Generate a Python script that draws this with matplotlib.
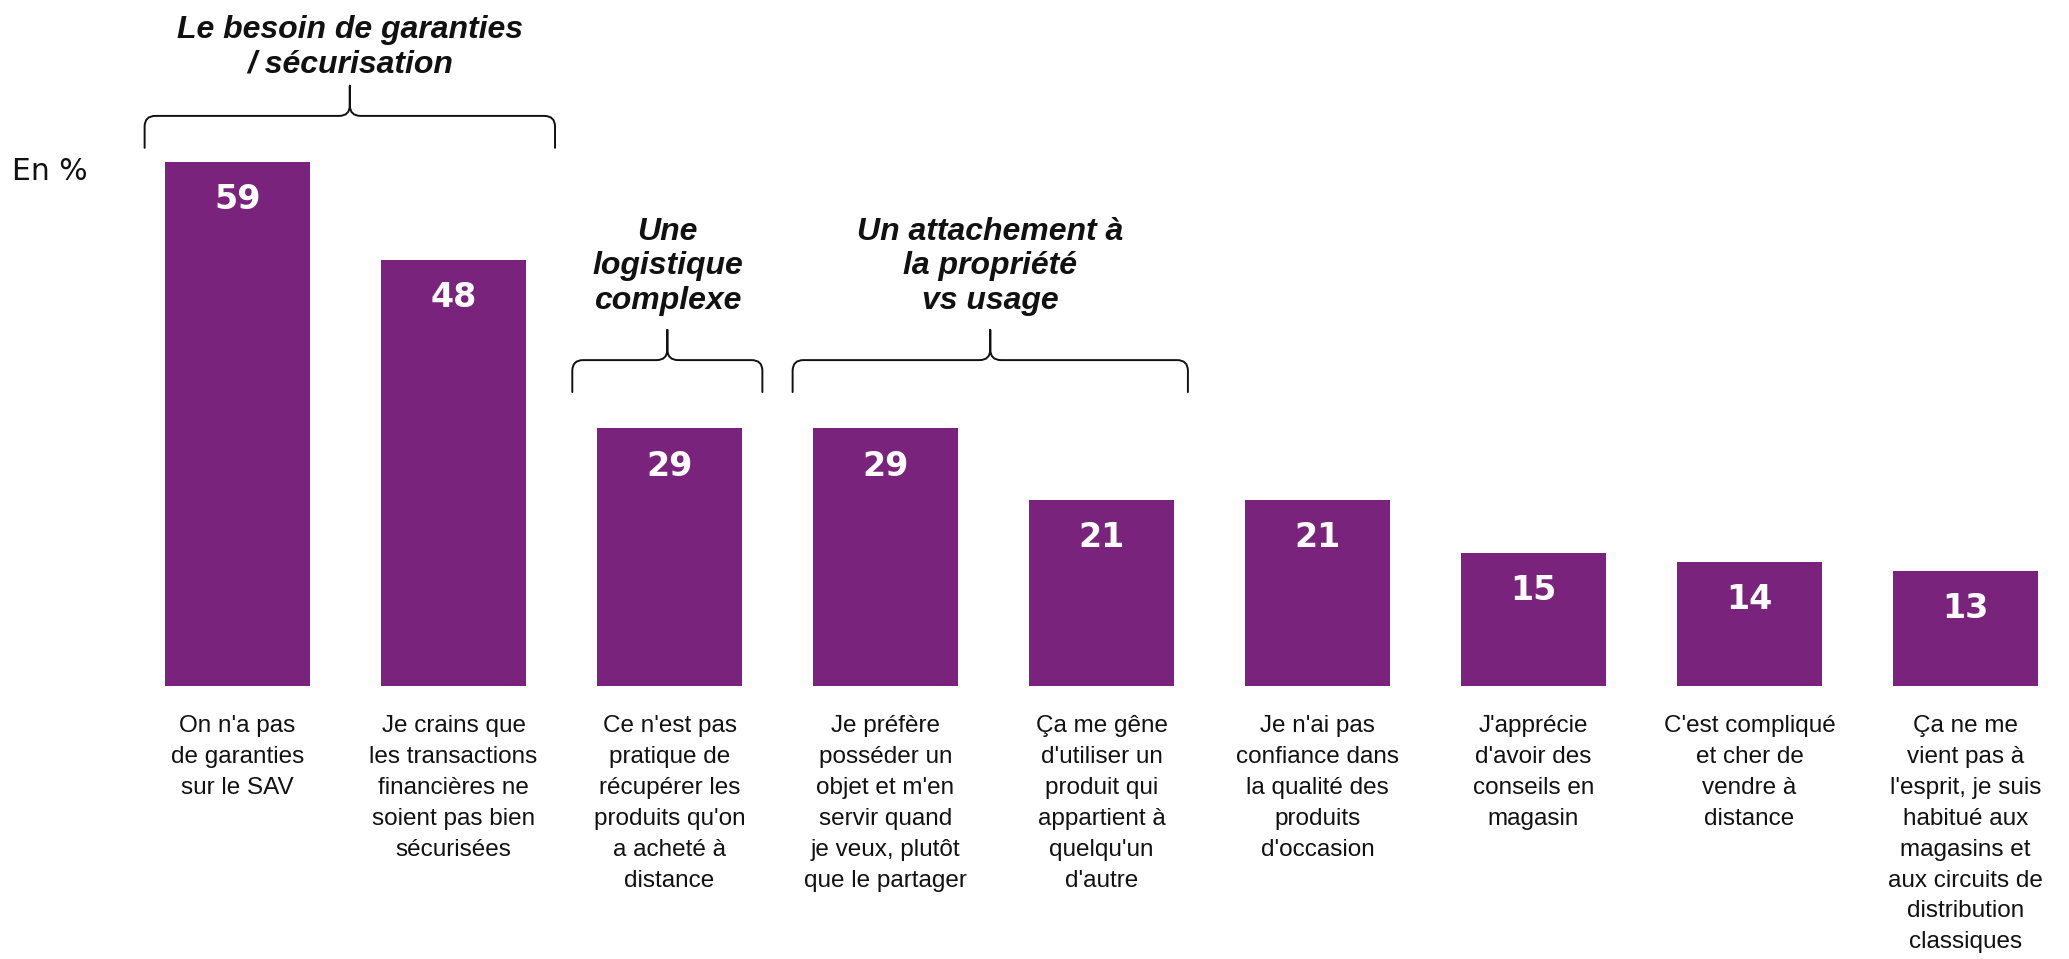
import matplotlib.pyplot as plt
from matplotlib.path import Path
from matplotlib.patches import PathPatch

# data
categories = [
    "On n'a pas\nde garanties\nsur le SAV",
    "Je crains que\nles transactions\nfinancières ne\nsoient pas bien\nsécurisées",
    "Ce n'est pas\npratique de\nrécupérer les\nproduits qu'on\na acheté à\ndistance",
    "Je préfère\nposséder un\nobjet et m'en\nservir quand\nje veux, plutôt\nque le partager",
    "Ça me gêne\nd'utiliser un\nproduit qui\nappartient à\nquelqu'un\nd'autre",
    "Je n'ai pas\nconfiance dans\nla qualité des\nproduits\nd'occasion",
    "J'apprécie\nd'avoir des\nconseils en\nmagasin",
    "C'est compliqué\net cher de\nvendre à\ndistance",
    "Ça ne me\nvient pas à\nl'esprit, je suis\nhabitué aux\nmagasins et\naux circuits de\ndistribution\nclassiques",
]
values = [59, 48, 29, 29, 21, 21, 15, 14, 13]

group_titles = [
    "Le besoin de garanties\n/ sécurisation",
    "Une\nlogistique\ncomplexe",
    "Un attachement à\nla propriété\nvs usage",
]
group_first = [0, 2, 3]
group_last = [1, 2, 4]

# layout
bar_color = '#7a237c'
brace_base = [60.6, 33.1, 33.1]   # y of the brace tips
brace_left = [0.43, 0.45, 0.43]
brace_right = [0.47, 0.43, 0.40]
title_gap = [0.7, 1.6, 1.6]
brace_rise = 3.6                  # tips -> horizontal line
brace_cusp = 3.4                  # horizontal -> cusp

W, H = 2069, 959
fig = plt.figure(figsize=(W / 100, H / 100), dpi=100)
ax = fig.add_axes([0, 0, 1, 1])
px_x = 216.0
px_y = 8.88
x0_px = 237.5
base_px = 273.0
ax.set_xlim(-x0_px / px_x, (W - x0_px) / px_x)
ax.set_ylim(-base_px / px_y, (H - base_px) / px_y)
ax.axis('off')

xs = list(range(len(values)))
ax.bar(xs, values, width=0.67, color=bar_color, edgecolor='none')

for x, v, lab in zip(xs, values, categories):
    ax.text(x, v - 2.4, str(v), ha='center', va='top', color='white',
            fontsize=24, fontweight='bold', family='DejaVu Sans')
    ax.text(x, -3.3, lab, ha='center', va='top', fontsize=17.5,
            family='Liberation Sans', linespacing=1.52, color='#111111')


def draw_brace(x0, x1, yb, yh, yc):
    xc = (x0 + x1) / 2
    rx = 0.05
    ry = 1.2
    verts = [
        (x0, yb), (x0, yh - ry),
        (x0, yh), (x0 + rx, yh),
        (xc - rx, yh),
        (xc, yh), (xc, yh + ry),
        (xc, yc),
        (xc, yc), (xc, yh + ry),
        (xc, yh), (xc + rx, yh),
        (x1 - rx, yh),
        (x1, yh), (x1, yh - ry),
        (x1, yb),
    ]
    codes = [Path.MOVETO, Path.LINETO,
             Path.CURVE3, Path.CURVE3,
             Path.LINETO,
             Path.CURVE3, Path.CURVE3,
             Path.LINETO,
             Path.MOVETO, Path.LINETO,
             Path.CURVE3, Path.CURVE3,
             Path.LINETO,
             Path.CURVE3, Path.CURVE3,
             Path.LINETO]
    ax.add_patch(PathPatch(Path(verts, codes), fill=False, lw=1.4,
                           edgecolor='#111111', capstyle='round'))
    return xc


for i, title in enumerate(group_titles):
    x0 = group_first[i] - brace_left[i]
    x1 = group_last[i] + brace_right[i]
    yb = brace_base[i]
    yh = yb + brace_rise
    yc = yh + brace_cusp
    xc = draw_brace(x0, x1, yb, yh, yc)
    ax.text(xc, yc + title_gap[i], title, ha='center', va='bottom',
            fontsize=23, fontweight='bold', fontstyle='italic',
            family='Liberation Sans', linespacing=1.2, color='#111111')

fig.text(12 / W, 1 - 172 / H, 'En %', ha='left', va='center', fontsize=21.5,
         family='DejaVu Sans', color='#111111')

fig.savefig('out.png', dpi=100)
